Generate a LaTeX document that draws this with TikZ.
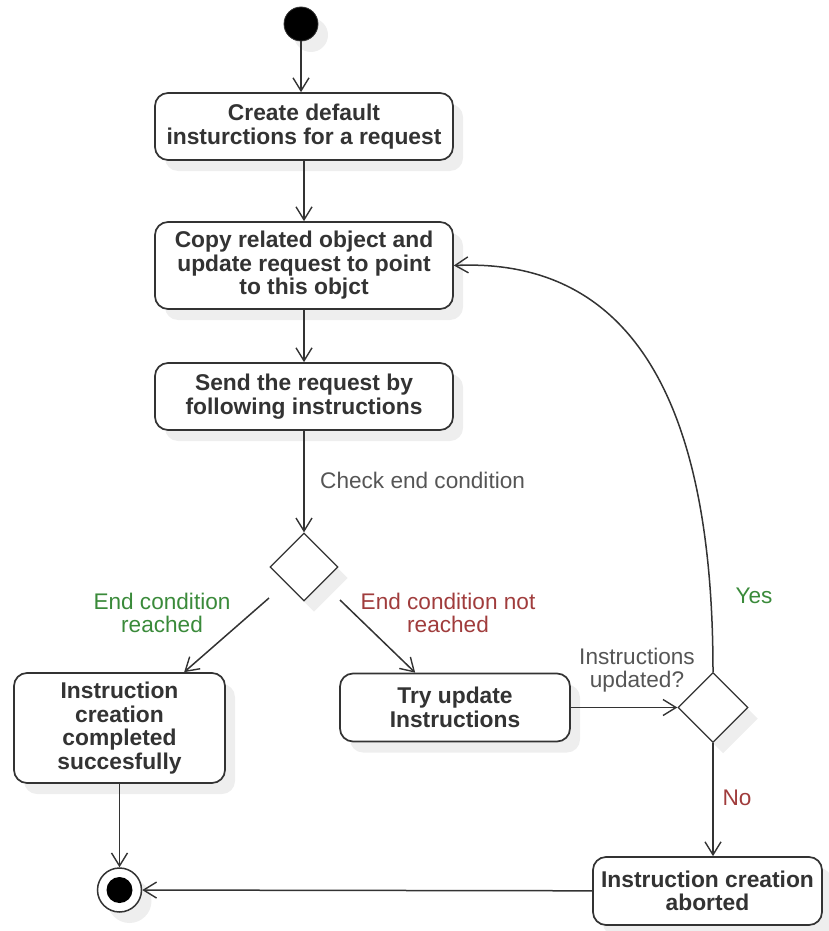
\documentclass[tikz,border=0pt]{standalone}
\usepackage{fontspec}
\setmainfont{Liberation Sans}
\usetikzlibrary{shapes.geometric,arrows.meta,shadows,calc}

\definecolor{ink}{HTML}{333333}
\definecolor{shadecol}{HTML}{EEEEEE}
\definecolor{yesgreen}{HTML}{3A8A3A}
\definecolor{nored}{HTML}{A03C3C}
\definecolor{note}{HTML}{555555}

\begin{document}
\begin{tikzpicture}[x=1pt,y=-1pt,
  shaded/.style={drop shadow={shadow xshift=10pt,shadow yshift=-11pt,fill=shadecol,opacity=1}},
  action/.style={shaded,draw=ink,line width=1.7pt,fill=white,rounded corners=13pt,
    align=center,text=ink,inner sep=0pt,font=\fontsize{22.8}{23.5}\selectfont\bfseries},
  decision/.style={shaded,diamond,aspect=1,draw=ink,line width=1.3pt,fill=white,inner sep=0pt},
  startdot/.style={shaded,circle,fill=black,draw=ink,line width=0.8pt,minimum size=34pt,inner sep=0pt},
  endring/.style={shaded,circle,fill=white,draw=ink,line width=1.5pt,minimum size=44pt,inner sep=0pt},
  endcore/.style={circle,fill=black,minimum size=26pt,inner sep=0pt},
  lab/.style={align=center,inner sep=0pt,font=\fontsize{22.6}{23}\selectfont},
  flow/.style={draw=ink,line width=1.5pt,-{Straight Barb[length=13pt,width=16pt,line width=1.4pt]}}
]
\useasboundingbox (0,0) rectangle (828,931);

% states
\node[startdot] (start) at (301,24) {};
\node[action,minimum width=298pt,minimum height=67pt] (b1) at (304,126.5)
  {Create default\\insturctions for a request};
\node[action,minimum width=298pt,minimum height=87pt] (b2) at (304,265.5)
  {Copy related object and\\update request to point\\to this objct};
\node[action,minimum width=298pt,minimum height=67pt] (b3) at (304,396.5)
  {Send the request by\\following instructions};
\node[decision,minimum size=68pt] (d1) at (304,567) {};
\node[action,minimum width=211pt,minimum height=110pt] (b4) at (119.5,728)
  {Instruction\\creation\\completed\\succesfully};
\node[action,minimum width=230pt,minimum height=68pt] (b5) at (455,707.5)
  {Try update\\Instructions};
\node[decision,minimum size=70pt] (d2) at (713,707.5) {};
\node[action,minimum width=229pt,minimum height=68pt] (b6) at (707.5,891)
  {Instruction creation\\aborted};
\node[endring] (end) at (119.5,890) {};
\node[endcore] (endc) at (end) {};

% labels
\node[lab,text=note,anchor=west] (lchk) at (320,480) {Check end condition};
\node[lab,text=yesgreen] (lreach) at (162,612.5) {End condition\\reached};
\node[lab,text=nored] (lnot) at (448,612.5) {End condition not\\reached};
\node[lab,text=note] (lupd) at (637,670.5) {Instructions\\updated?};
\node[lab,text=yesgreen] (lyes) at (754,596) {Yes};
\node[lab,text=nored] (lno) at (737,798) {No};

% transitions
\draw[flow] (start) -- (start |- b1.north);
\draw[flow] (b1) -- (b2);
\draw[flow] (b2) -- (b3);
\draw[flow] (b3) -- (d1);
\draw[flow] ($(d1)+(-35,31)$) -- ($(b4.north west)+(171,0)$);
\draw[flow] ($(d1)+(36,33)$) -- ($(b5.north west)+(76,0)$);
\draw[flow] (b4) -- (end);
\draw[flow] (b5) -- (d2);
\draw[flow] (d2) -- (d2 |- b6.north);
\draw[flow] (b6) -- (end);
\draw[flow] (d2.north) .. controls ($(d2.north)+(0,-303)$) and ($(b2.east)+(157,-7)$) .. (b2.east);
\end{tikzpicture}
\end{document}
